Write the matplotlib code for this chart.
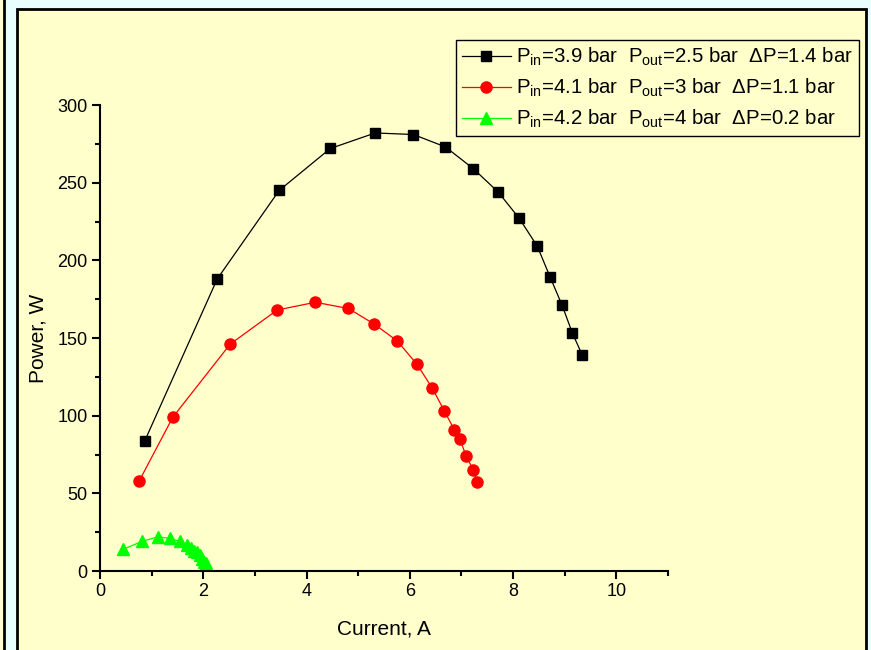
import matplotlib
matplotlib.use("Agg")
import matplotlib.pyplot as plt
from matplotlib.patches import Rectangle

plt.rcParams['font.family'] = ['Liberation Sans', 'DejaVu Sans']
plt.rcParams['mathtext.fontset'] = 'custom'
plt.rcParams['mathtext.rm'] = 'Liberation Sans'
plt.rcParams['mathtext.it'] = 'Liberation Sans'

# Data
current_1 = [0.87, 2.27, 3.47, 4.46, 5.33, 6.07, 6.69, 7.23, 7.71, 8.12, 8.47, 8.72, 8.95, 9.15, 9.34]
power_1 = [84, 188, 245, 272, 282, 281, 273, 259, 244, 227, 209, 189, 171, 153, 139]

current_2 = [0.76, 1.41, 2.52, 3.43, 4.17, 4.81, 5.31, 5.76, 6.14, 6.43, 6.67, 6.86, 6.97, 7.09, 7.23, 7.31]
power_2 = [58, 99, 146, 168, 173, 169, 159, 148, 133, 118, 103, 91, 85, 74, 65, 57]

current_3 = [0.45, 0.81, 1.12, 1.36, 1.55, 1.69, 1.76, 1.82, 1.88, 1.94, 1.98, 2.01, 2.05]
power_3 = [14, 19, 22, 21, 19, 17, 15, 13, 12, 10, 8, 6, 5]

labels = [
    r'P$_{\rm in}$=3.9 bar  P$_{\rm out}$=2.5 bar  $\Delta$P=1.4 bar',
    r'P$_{\rm in}$=4.1 bar  P$_{\rm out}$=3 bar  $\Delta$P=1.1 bar',
    r'P$_{\rm in}$=4.2 bar  P$_{\rm out}$=4 bar  $\Delta$P=0.2 bar',
]

W, H = 871, 650
fig = plt.figure(figsize=(W / 100, H / 100), dpi=100)
fig.patch.set_facecolor('#e8ffff')

# background panels (behind the axes)
fig.patches.append(Rectangle((-10 / W, -0.1), 14 / W, 1.2, transform=fig.transFigure,
                             facecolor='#ffffcc', edgecolor='black', linewidth=2, zorder=-10))
fig.patches.append(Rectangle((17 / W, -0.1), 849 / W, 1 - 9 / H + 0.1, transform=fig.transFigure,
                             facecolor='#ffffcc', edgecolor='black', linewidth=2, zorder=-10))

ax = fig.add_axes([100 / W, (H - 571) / H, 568 / W, 466 / H])
ax.set_facecolor('none')

ax.plot(current_1, power_1, color='black', lw=0.9, marker='s', ms=7, label=labels[0])
ax.plot(current_2, power_2, color='red', lw=0.9, marker='o', ms=8, label=labels[1])
ax.plot(current_3, power_3, color='#00ff00', lw=0.9, marker='^', ms=9, label=labels[2])

ax.set_xlim(0, 11)
ax.set_ylim(0, 300)
ax.set_xticks([0, 2, 4, 6, 8, 10])
ax.set_xticks([1, 3, 5, 7, 9, 11], minor=True)
ax.set_yticks([0, 50, 100, 150, 200, 250, 300])
ax.set_yticks([25, 75, 125, 175, 225, 275], minor=True)

for s in ['top', 'right']:
    ax.spines[s].set_visible(False)
for s in ['left', 'bottom']:
    ax.spines[s].set_linewidth(1.5)
ax.tick_params(which='major', direction='out', length=6, width=1.5, labelsize=13, pad=3)
ax.tick_params(which='minor', direction='out', length=3.5, width=1.5)

ax.set_xlabel('Current, A', fontsize=15, labelpad=14)
ax.set_ylabel('Power, W', fontsize=15, labelpad=7)

leg = ax.legend(loc='upper right', bbox_to_anchor=(859 / W, 1 - 40 / H),
                bbox_transform=fig.transFigure, borderaxespad=0, fontsize=14.7,
                fancybox=False, framealpha=1, edgecolor='black', facecolor='#ffffcc',
                handlelength=2.4, handletextpad=0.25, labelspacing=0.42,
                borderpad=0.3)
leg.get_frame().set_linewidth(1.0)

fig.savefig('out.png', dpi=100, facecolor=fig.get_facecolor())
